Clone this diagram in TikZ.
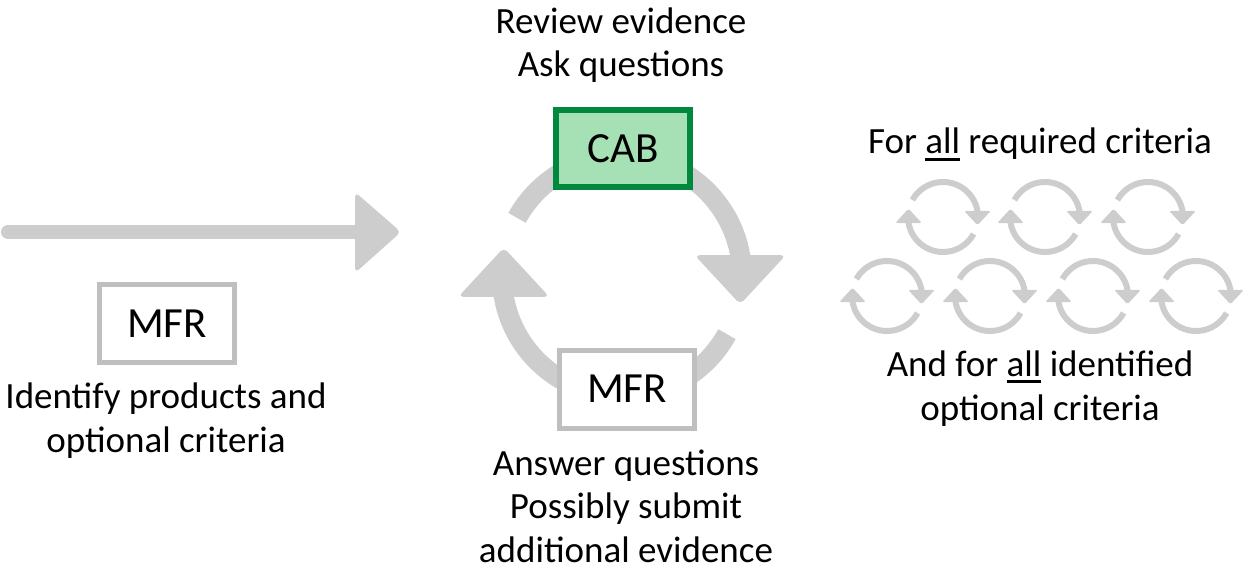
\documentclass[tikz,border=0pt]{standalone}
\usepackage{fontspec}
\setmainfont{Carlito}
\definecolor{cycgray}{RGB}{205,205,205}
\definecolor{boxgray}{RGB}{191,191,191}
\definecolor{cabfill}{RGB}{166,224,181}
\definecolor{cabdraw}{RGB}{0,136,62}
\newcommand\myul[1]{\leavevmode\vtop{\hbox{#1}\kern3.5pt\hrule height 3pt}}
% cx, cy (pixels, y downwards), radius, band width, corner radius
\newcommand\recycle[5]{%
\begin{scope}[shift={(#1pt,-#2pt)}, x=#3pt, y=#3pt]
  \draw[cycgray, line width=#4pt] (151:1) arc[start angle=151, end angle=8, radius=#3pt];
  \fill[cycgray, rounded corners=#5pt] (0.605,0.174) -- (1.365,0.174) -- (0.985,-0.236) -- cycle;
  \draw[cycgray, line width=#4pt] (-29:1) arc[start angle=-29, end angle=-172, radius=#3pt];
  \fill[cycgray, rounded corners=#5pt] (-0.605,-0.174) -- (-1.365,-0.174) -- (-0.985,0.236) -- cycle;
\end{scope}}
\begin{document}
\begin{tikzpicture}[x=1pt,y=1pt,
  txt/.style={align=center, inner sep=0pt, font=\fontsize{37}{43.5}\selectfont},
  boxbase/.style={rectangle, inner sep=0pt, font=\fontsize{43}{50}\selectfont},
  mfrbox/.style={boxbase, draw=boxgray, fill=white, line width=5pt, minimum width=135pt, minimum height=78pt},
  cabbox/.style={boxbase, draw=cabdraw, fill=cabfill, line width=6pt, minimum width=134pt, minimum height=77pt}]
\useasboundingbox (0,0) rectangle (1243,-572);

% big arrow
\coordinate (a0) at (8,-232);
\coordinate (a1) at (360,-232);
\draw[cycgray, line width=14pt, line cap=round] (a0) -- (a1);
\fill[cycgray, rounded corners=5pt] (355,-192) -- (401,-232) -- (355,-273) -- cycle;

% main cycle
\recycle{622}{276}{120}{20}{5}

% small cycles
\recycle{943}{217}{35}{6}{1.5}
\recycle{1045}{217}{35}{6}{1.5}
\recycle{1148}{217}{35}{6}{1.5}
\recycle{887}{296}{35}{6}{1.5}
\recycle{990}{296}{35}{6}{1.5}
\recycle{1093}{296}{35}{6}{1.5}
\recycle{1196}{296}{35}{6}{1.5}

% boxes
\node[cabbox] (cab) at (623,-148.5) {CAB};
\node[mfrbox] (mfr2) at (627,-389) {MFR};
\node[mfrbox] (mfr1) at (167,-323.5) {MFR};

% texts (anchor base = baseline of the last line)
\node[txt, anchor=base] (rev) at (621,-77) {Review evidence\\Ask questions};
\node[txt, anchor=base] (ident) at (166,-452) {Identify products and\\optional criteria};
\node[txt, anchor=base] (req) at (1040,-154) {For \myul{all} required criteria};
\node[txt, anchor=base] (opt) at (1040,-420) {And for \myul{all} identified\\optional criteria};
\node[txt, anchor=base] (ans) at (626,-562) {Answer questions\\Possibly submit\\additional evidence};
\end{tikzpicture}
\end{document}
